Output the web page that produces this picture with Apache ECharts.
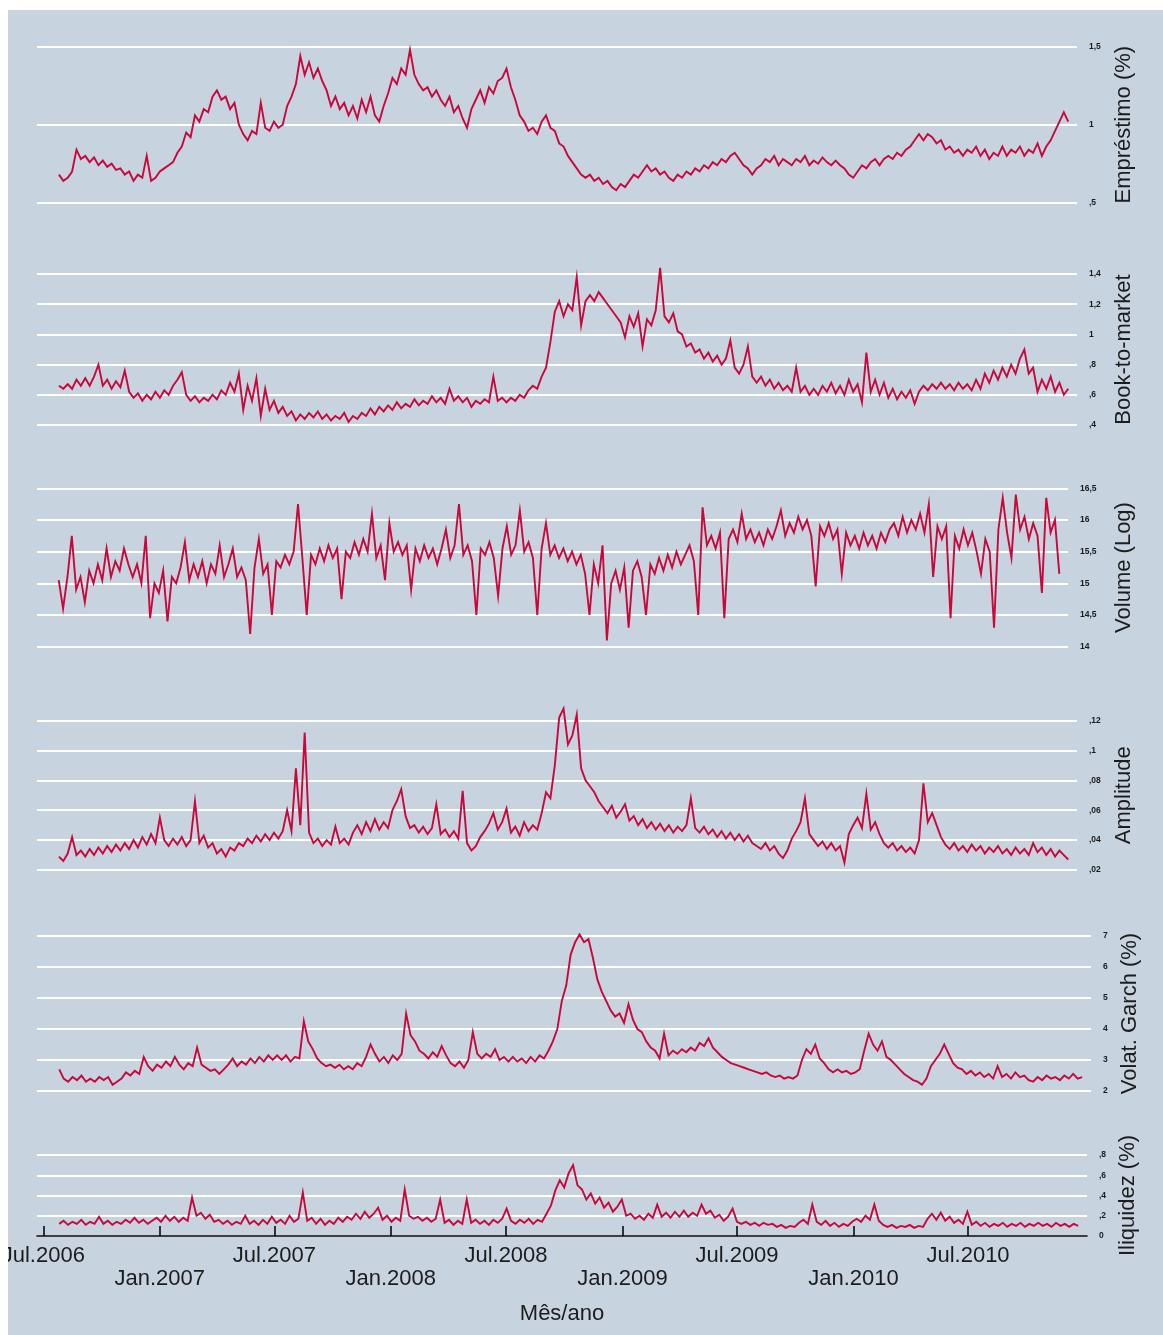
<!DOCTYPE html>
<html><head><meta charset="utf-8">
<script src="https://cdn.jsdelivr.net/npm/echarts@6/dist/echarts.min.js"></script>
<style>html,body{margin:0;padding:0;background:#fff;}#c{position:absolute;left:8px;top:10px;width:1155px;height:1325px;}</style>
</head><body><div id="c"></div><script>
// weekly observations starting 26 Jul 2006
const startYear = 2006, startMonth = 6, startDay = 26, stepDays = 7;

const emprestimo = [
0.68,0.64,0.66,0.70,0.84,0.78,0.80,0.76,0.79,0.74,
0.77,0.73,0.75,0.71,0.72,0.68,0.70,0.64,0.68,0.66,
0.80,0.64,0.66,0.70,0.72,0.74,0.76,0.82,0.86,0.95,
0.92,1.06,1.02,1.10,1.08,1.18,1.22,1.16,1.18,1.10,
1.14,1.00,0.94,0.90,0.96,0.94,1.14,0.98,0.96,1.02,
0.98,1.00,1.12,1.18,1.26,1.44,1.32,1.40,1.30,1.36,
1.28,1.22,1.12,1.18,1.10,1.14,1.06,1.12,1.04,1.16,
1.08,1.18,1.06,1.02,1.12,1.20,1.30,1.26,1.36,1.32,
1.48,1.32,1.26,1.22,1.24,1.18,1.22,1.16,1.12,1.18,
1.08,1.12,1.04,0.98,1.10,1.16,1.22,1.14,1.24,1.20,
1.28,1.30,1.36,1.24,1.16,1.06,1.02,0.96,0.98,0.94,
1.02,1.06,0.98,0.96,0.88,0.86,0.80,0.76,0.72,0.68,
0.66,0.68,0.64,0.66,0.62,0.64,0.60,0.58,0.62,0.60,
0.64,0.68,0.66,0.70,0.74,0.70,0.72,0.68,0.70,0.66,
0.64,0.68,0.66,0.70,0.68,0.72,0.70,0.74,0.72,0.76,
0.74,0.78,0.76,0.80,0.82,0.78,0.74,0.72,0.68,0.72,
0.74,0.78,0.76,0.80,0.74,0.78,0.76,0.74,0.78,0.76,
0.80,0.74,0.77,0.75,0.79,0.76,0.74,0.77,0.74,0.72,
0.68,0.66,0.70,0.74,0.72,0.76,0.78,0.74,0.78,0.80,
0.78,0.82,0.80,0.84,0.86,0.90,0.94,0.90,0.94,0.92,
0.88,0.90,0.84,0.86,0.82,0.84,0.80,0.84,0.82,0.86,
0.80,0.84,0.78,0.82,0.80,0.86,0.80,0.84,0.82,0.86,
0.80,0.84,0.82,0.88,0.80,0.86,0.90,0.96,1.02,1.08,1.02];

const bookToMarket = [
0.66,0.64,0.67,0.64,0.70,0.66,0.71,0.66,0.72,0.80,
0.66,0.70,0.64,0.69,0.65,0.76,0.62,0.58,0.61,0.56,
0.60,0.57,0.62,0.58,0.63,0.60,0.66,0.70,0.75,0.60,
0.56,0.59,0.55,0.58,0.56,0.60,0.57,0.63,0.60,0.68,
0.62,0.74,0.50,0.66,0.56,0.71,0.46,0.64,0.50,0.56,
0.48,0.52,0.46,0.49,0.43,0.47,0.44,0.48,0.45,0.49,
0.44,0.47,0.43,0.46,0.44,0.48,0.42,0.46,0.44,0.48,
0.46,0.51,0.47,0.52,0.49,0.53,0.50,0.55,0.51,0.54,
0.52,0.57,0.53,0.56,0.54,0.59,0.55,0.58,0.54,0.64,
0.56,0.59,0.55,0.58,0.52,0.56,0.54,0.57,0.55,0.72,
0.56,0.58,0.55,0.58,0.56,0.60,0.58,0.63,0.66,0.64,
0.72,0.78,0.95,1.15,1.22,1.12,1.20,1.16,1.38,1.06,
1.22,1.26,1.22,1.28,1.24,1.20,1.16,1.12,1.08,0.98,
1.12,1.05,1.14,0.92,1.10,1.06,1.16,1.44,1.12,1.08,
1.14,1.02,1.00,0.92,0.94,0.88,0.90,0.84,0.88,0.82,
0.86,0.80,0.84,0.96,0.78,0.74,0.80,0.92,0.72,0.68,
0.72,0.66,0.70,0.64,0.68,0.63,0.66,0.62,0.78,0.62,
0.66,0.60,0.64,0.60,0.66,0.62,0.68,0.61,0.66,0.60,
0.70,0.62,0.67,0.55,0.88,0.62,0.70,0.60,0.68,0.58,
0.64,0.57,0.62,0.58,0.63,0.54,0.62,0.66,0.63,0.67,
0.64,0.68,0.64,0.67,0.63,0.68,0.64,0.67,0.63,0.70,
0.64,0.74,0.68,0.76,0.70,0.78,0.72,0.80,0.74,0.84,
0.90,0.74,0.78,0.62,0.70,0.64,0.72,0.62,0.68,0.60,0.64];

const volume = [
15.05,14.6,15.1,15.75,14.9,15.1,14.7,15.2,15.0,15.3,
15.05,15.55,15.1,15.35,15.2,15.55,15.3,15.1,15.3,15.0,
15.75,14.45,15.0,14.85,15.2,14.4,15.1,15.0,15.25,15.65,
15.05,15.3,15.1,15.35,15.0,15.3,15.15,15.6,15.1,15.3,
15.55,15.1,15.25,15.05,14.2,15.25,15.7,15.15,15.3,14.5,
15.35,15.25,15.45,15.3,15.5,16.25,15.4,14.5,15.45,15.3,
15.55,15.35,15.6,15.4,15.55,14.75,15.5,15.4,15.65,15.45,
15.7,15.5,16.1,15.4,15.6,15.05,15.95,15.5,15.65,15.45,
15.6,14.9,15.55,15.35,15.6,15.4,15.55,15.3,15.55,15.85,
15.4,15.6,16.25,15.45,15.6,15.35,14.5,15.55,15.45,15.65,
15.4,14.8,15.55,15.9,15.45,15.6,16.15,15.5,15.65,15.4,
14.5,15.55,15.95,15.45,15.6,15.4,15.55,15.35,15.5,15.3,
15.45,15.15,14.5,15.3,15.0,15.6,14.1,15.0,15.2,14.9,
15.25,14.3,15.2,15.35,15.1,14.5,15.3,15.15,15.4,15.2,
15.45,15.25,15.5,15.3,15.45,15.6,15.35,14.5,16.2,15.6,
15.75,15.55,15.8,14.45,15.7,15.85,15.65,16.1,15.7,15.85,
15.65,15.8,15.6,15.85,15.7,15.9,16.15,15.75,15.95,15.8,
16.05,15.85,16.0,15.75,14.95,15.9,15.75,15.95,15.7,15.85,
15.15,15.8,15.6,15.75,15.55,15.8,15.6,15.75,15.55,15.8,
15.65,15.85,15.95,15.75,16.05,15.8,16.0,15.85,16.1,15.8,
16.25,15.1,15.9,15.7,15.9,14.45,15.75,15.55,15.85,15.6,
15.8,15.5,15.15,15.7,15.5,14.3,15.85,16.35,15.8,15.4,
16.4,15.85,16.05,15.7,15.95,15.75,14.85,16.35,15.8,16.0,15.15];

const amplitude = [
0.029,0.026,0.031,0.042,0.030,0.033,0.029,0.034,0.030,0.035,
0.031,0.036,0.032,0.037,0.033,0.038,0.034,0.040,0.035,0.042,
0.037,0.044,0.038,0.055,0.040,0.036,0.041,0.037,0.042,0.036,
0.040,0.066,0.038,0.043,0.035,0.038,0.031,0.034,0.029,0.035,
0.033,0.038,0.036,0.041,0.038,0.043,0.039,0.044,0.040,0.045,
0.041,0.046,0.060,0.046,0.088,0.050,0.112,0.045,0.038,0.041,
0.036,0.040,0.037,0.049,0.038,0.041,0.037,0.045,0.050,0.044,
0.052,0.046,0.054,0.047,0.052,0.048,0.060,0.066,0.074,0.056,
0.048,0.050,0.045,0.049,0.044,0.048,0.064,0.044,0.047,0.042,
0.046,0.041,0.073,0.038,0.033,0.036,0.042,0.046,0.051,0.058,
0.047,0.052,0.061,0.045,0.049,0.043,0.052,0.046,0.050,0.047,
0.058,0.072,0.068,0.090,0.122,0.128,0.104,0.110,0.124,0.088,
0.080,0.076,0.072,0.066,0.062,0.058,0.063,0.055,0.059,0.064,
0.053,0.056,0.050,0.054,0.048,0.052,0.047,0.051,0.046,0.050,
0.045,0.049,0.046,0.050,0.068,0.048,0.045,0.049,0.044,0.047,
0.042,0.046,0.041,0.045,0.040,0.044,0.039,0.043,0.038,0.036,
0.034,0.038,0.033,0.036,0.031,0.028,0.033,0.041,0.046,0.052,
0.068,0.044,0.040,0.036,0.039,0.034,0.038,0.033,0.036,0.025,
0.044,0.050,0.055,0.048,0.071,0.047,0.052,0.044,0.038,0.035,
0.038,0.033,0.036,0.032,0.035,0.031,0.040,0.078,0.052,0.058,
0.050,0.042,0.037,0.034,0.038,0.033,0.036,0.032,0.037,0.033,
0.036,0.031,0.035,0.032,0.036,0.031,0.034,0.030,0.035,0.031,
0.034,0.030,0.038,0.032,0.035,0.030,0.034,0.029,0.033,0.030,0.027];

const volatGarch = [
2.7,2.4,2.3,2.45,2.35,2.5,2.3,2.4,2.3,2.45,
2.35,2.45,2.2,2.3,2.4,2.6,2.5,2.65,2.55,3.1,
2.8,2.65,2.85,2.75,2.95,2.8,3.1,2.85,2.7,2.9,
2.8,3.4,2.85,2.75,2.65,2.7,2.55,2.7,2.85,3.05,
2.8,2.95,2.85,3.05,2.9,3.1,2.95,3.15,3.0,3.15,
3.0,3.15,2.95,3.1,3.05,4.25,3.6,3.35,3.05,2.9,
2.8,2.85,2.75,2.85,2.7,2.8,2.7,2.9,2.8,3.1,
3.5,3.2,2.95,3.1,2.9,3.15,3.0,3.2,4.5,3.8,
3.6,3.3,3.2,3.05,3.25,3.1,3.45,3.15,2.9,2.8,
2.95,2.75,3.0,3.9,3.2,3.05,3.2,3.1,3.35,3.0,
3.1,2.95,3.1,2.95,3.05,2.9,3.1,2.95,3.15,3.05,
3.3,3.6,4.0,4.9,5.4,6.4,6.8,7.05,6.8,6.9,
6.3,5.6,5.2,4.9,4.6,4.4,4.5,4.2,4.8,4.3,
4.0,3.9,3.6,3.4,3.3,3.05,3.85,3.15,3.3,3.2,
3.35,3.25,3.4,3.3,3.55,3.45,3.7,3.4,3.25,3.1,
3.0,2.9,2.85,2.8,2.75,2.7,2.65,2.6,2.55,2.6,
2.5,2.45,2.5,2.4,2.45,2.4,2.5,3.0,3.35,3.2,
3.5,3.05,2.9,2.7,2.6,2.7,2.6,2.65,2.55,2.6,
2.7,3.3,3.85,3.5,3.3,3.6,3.1,3.0,2.85,2.7,
2.55,2.45,2.35,2.3,2.2,2.4,2.8,3.0,3.2,3.5,
3.2,2.9,2.75,2.7,2.55,2.65,2.5,2.6,2.45,2.55,
2.4,2.8,2.45,2.55,2.4,2.6,2.45,2.5,2.35,2.3,
2.45,2.35,2.5,2.4,2.45,2.35,2.5,2.4,2.55,2.4,2.45];

const iliquidez = [
0.12,0.15,0.11,0.14,0.12,0.16,0.11,0.14,0.12,0.19,
0.12,0.15,0.11,0.14,0.12,0.16,0.13,0.18,0.13,0.16,
0.12,0.15,0.18,0.14,0.20,0.15,0.19,0.14,0.18,0.15,
0.38,0.20,0.23,0.17,0.21,0.14,0.16,0.12,0.15,0.11,
0.14,0.12,0.20,0.12,0.15,0.11,0.16,0.12,0.19,0.13,
0.16,0.12,0.20,0.14,0.17,0.43,0.15,0.18,0.12,0.17,
0.11,0.15,0.12,0.18,0.14,0.19,0.16,0.22,0.17,0.24,
0.18,0.22,0.28,0.16,0.20,0.14,0.18,0.15,0.46,0.20,
0.17,0.19,0.15,0.18,0.14,0.17,0.36,0.13,0.16,0.11,
0.15,0.12,0.36,0.13,0.16,0.12,0.15,0.11,0.16,0.13,
0.17,0.27,0.15,0.12,0.16,0.13,0.17,0.12,0.16,0.14,
0.22,0.30,0.45,0.55,0.48,0.62,0.70,0.50,0.46,0.36,
0.42,0.32,0.38,0.28,0.33,0.24,0.29,0.36,0.20,0.22,
0.17,0.20,0.16,0.22,0.18,0.31,0.19,0.23,0.18,0.24,
0.19,0.25,0.19,0.23,0.20,0.31,0.22,0.25,0.18,0.21,
0.15,0.19,0.27,0.14,0.12,0.14,0.11,0.13,0.10,0.13,
0.11,0.12,0.09,0.11,0.08,0.10,0.09,0.13,0.16,0.12,
0.31,0.14,0.11,0.15,0.10,0.13,0.09,0.12,0.10,0.14,
0.17,0.14,0.20,0.16,0.31,0.15,0.11,0.09,0.11,0.08,
0.10,0.09,0.11,0.08,0.10,0.09,0.17,0.22,0.16,0.23,
0.15,0.19,0.13,0.16,0.12,0.24,0.11,0.14,0.10,0.13,
0.09,0.12,0.10,0.13,0.09,0.12,0.10,0.13,0.09,0.12,
0.10,0.13,0.10,0.12,0.09,0.13,0.10,0.12,0.09,0.12,0.10];

const tickLabels = ['Jul.2006','Jan.2007','Jul.2007','Jan.2008','Jul.2008','Jan.2009','Jul.2009','Jan.2010','Jul.2010'];
const tickDates = [[2006,6],[2007,0],[2007,6],[2008,0],[2008,6],[2009,0],[2009,6],[2010,0],[2010,6]];
const axisTitles = ['Empréstimo (%)','Book-to-market','Volume (Log)','Amplitude','Volat. Garch (%)','Iliquidez (%)'];
const xTitle = 'Mês/ano';

const dates = emprestimo.map((_, i) => new Date(startYear, startMonth, startDay + i * stepDays).getTime());
const tickValues = tickDates.map(d => new Date(d[0], d[1], 1).getTime());
const xMin = new Date(2006, 5, 21).getTime();
const xMax = new Date(2011, 0, 5).getTime();

const fmt = v => {
  let s = String(Number(v.toFixed(4))).replace('.', ',');
  if (s.startsWith('0,')) s = s.slice(1);
  return s;
};

const RED = '#c8073a';
const TXT = '#1c1c1c';
const panels = [
  {values: emprestimo,   top: 36.7,  height: 156,   right: 86, min: 0.5,  max: 1.5,  interval: 0.5,  gap: 36},
  {values: bookToMarket, top: 264,   height: 151,   right: 86, min: 0.4,  max: 1.4,  interval: 0.2,  gap: 36},
  {values: volume,       top: 478.3, height: 158.4, right: 95, min: 14,   max: 16.5, interval: 0.5,  gap: 45},
  {values: amplitude,    top: 710.5, height: 149.5, right: 86, min: 0.02, max: 0.12, interval: 0.02, gap: 36},
  {values: volatGarch,   top: 926,   height: 155,   right: 72, min: 2,    max: 7,    interval: 1,    gap: 22},
  {values: iliquidez,    top: 1145,  height: 81,    right: 76, min: 0,    max: 0.8,  interval: 0.2,  gap: 26}
];
const last = panels.length - 1;

const option = {
  backgroundColor: '#c7d3df',
  animation: false,
  textStyle: {fontFamily: 'Liberation Sans, Arial, sans-serif'},
  grid: panels.map(p => ({left: 29, right: p.right, top: p.top, height: p.height, containLabel: false, outerBoundsMode: 'none'})),
  xAxis: panels.map((p, i) => {
    const bottom = i === last;
    return {
      type: 'value', gridIndex: i, min: xMin, max: xMax, show: bottom, scale: true,
      splitLine: {show: false},
      axisLine: {show: bottom, onZero: false, lineStyle: {color: '#000', width: 1.5}},
      axisTick: {show: bottom, customValues: tickValues, inside: true, length: 10, lineStyle: {color: '#000', width: 1.5}},
      axisLabel: {
        show: bottom, customValues: tickValues, margin: 8, fontSize: 22, lineHeight: 23, color: TXT,
        formatter: (v) => {
          const k = tickValues.indexOf(v);
          if (k < 0) return '';
          return (k % 2 === 1 ? '\n' : '') + tickLabels[k];
        }
      },
      name: bottom ? xTitle : '', nameLocation: 'middle', nameGap: 67,
      nameTextStyle: {fontSize: 22, color: TXT}
    };
  }),
  yAxis: panels.map((p, i) => ({
    type: 'value', gridIndex: i, position: 'right', min: p.min, max: p.max, interval: p.interval,
    axisLine: {show: false}, axisTick: {show: false},
    splitLine: {show: true, lineStyle: {color: '#ffffff', width: 2}},
    axisLabel: {formatter: fmt, fontSize: 8.5, fontWeight: 'bold', color: TXT, margin: 12},
    name: axisTitles[i], nameLocation: 'middle', nameRotate: 90, nameGap: p.gap,
    nameTextStyle: {fontSize: 22, color: TXT}
  })),
  series: panels.map((p, i) => ({
    type: 'line', xAxisIndex: i, yAxisIndex: i, symbol: 'none', showSymbol: false, clip: false,
    lineStyle: {color: RED, width: 1.9, join: 'miter'}, itemStyle: {color: RED},
    data: p.values.map((v, j) => [dates[j], v])
  }))
};

const chart = echarts.init(document.getElementById('c'));
chart.setOption(option);
</script></body></html>
